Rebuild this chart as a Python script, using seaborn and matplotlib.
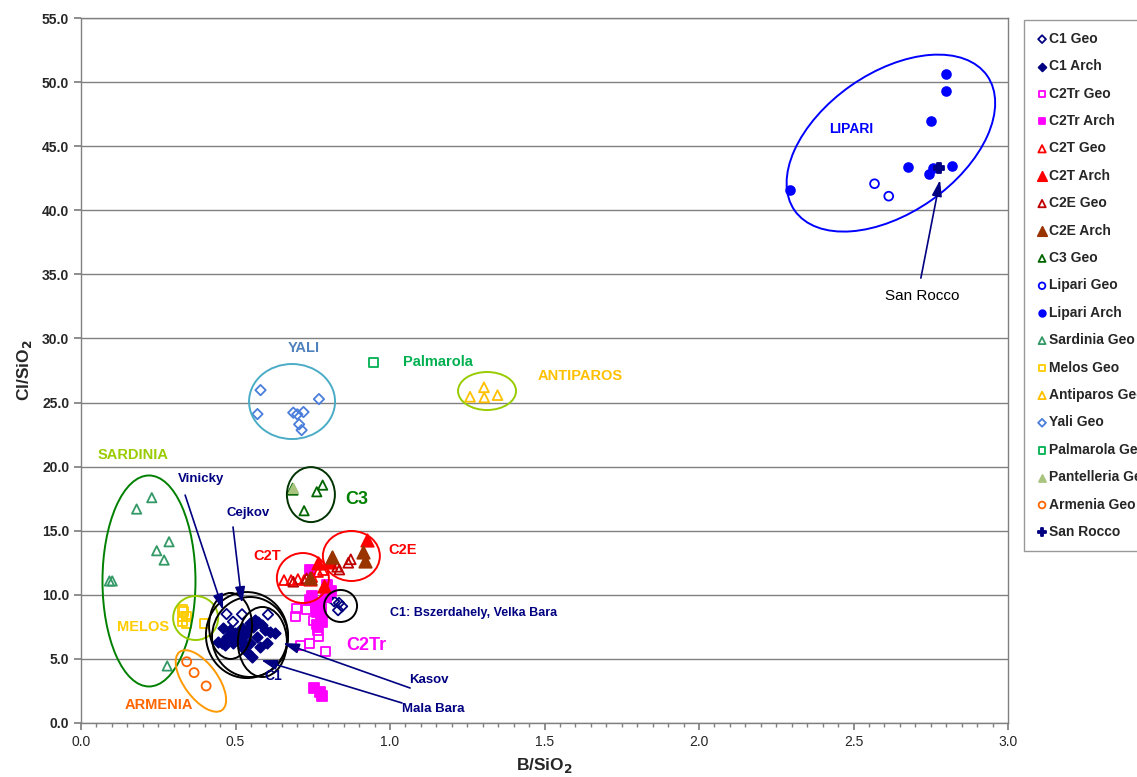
import matplotlib
matplotlib.use("Agg")
import matplotlib.pyplot as plt
from matplotlib.patches import Ellipse
from matplotlib.transforms import ScaledTranslation
from matplotlib.ticker import MultipleLocator, FormatStrFormatter
import seaborn as sns
import pandas as pd

# ---- data: B/SiO2 (x) and Cl/SiO2 (y) per source group ----
c1_geo_x = [0.471, 0.521, 0.492, 0.605, 0.803, 0.819, 0.835, 0.832, 0.845]
c1_geo_y = [8.50, 8.48, 7.90, 8.46, 9.80, 9.50, 9.36, 8.80, 9.10]

c1_arch_x = [0.443, 0.460, 0.482, 0.498, 0.505, 0.521, 0.537, 0.547, 0.557, 0.573,
             0.586, 0.595, 0.612, 0.628, 0.570, 0.547, 0.524, 0.492, 0.537, 0.553,
             0.524, 0.579, 0.602, 0.515, 0.472, 0.456, 0.466, 0.563, 0.531]
c1_arch_y = [6.32, 7.41, 7.25, 7.02, 6.47, 7.41, 7.25, 7.80, 7.49, 7.88,
             7.64, 7.25, 7.10, 7.02, 6.71, 6.24, 6.24, 6.24, 5.54, 5.15,
             5.85, 5.93, 6.24, 6.71, 6.71, 6.24, 6.08, 8.03, 6.86]

c2tr_geo_x = [0.699, 0.693, 0.731, 0.751, 0.764, 0.767, 0.741, 0.709, 0.790, 0.773, 0.761]
c2tr_geo_y = [8.97, 8.27, 8.89, 8.03, 7.25, 6.71, 6.24, 6.08, 5.54, 8.66, 7.72]

c2tr_arch_x = [0.754, 0.773, 0.780, 0.741, 0.796, 0.741, 0.761, 0.777, 0.764, 0.777,
               0.780, 0.767, 0.793, 0.748, 0.809]
c2tr_arch_y = [2.73, 2.42, 2.11, 11.93, 10.76, 9.59, 9.36, 9.05, 8.66, 8.27,
               7.88, 7.57, 9.83, 9.91, 10.30]

c2t_geo_x = [0.657, 0.680, 0.702, 0.722, 0.748, 0.767, 0.783]
c2t_geo_y = [11.15, 11.15, 11.23, 11.15, 11.39, 11.78, 11.93]

c2t_arch_x = [0.925, 0.806, 0.768, 0.787, 0.741]
c2t_arch_y = [14.27, 12.58, 12.50, 10.69, 11.21]

c2e_geo_x = [0.836, 0.865, 0.873, 0.829, 0.730, 0.687]
c2e_geo_y = [11.97, 12.50, 12.77, 12.19, 11.29, 11.02]

c2e_arch_x = [0.811, 0.912, 0.919, 0.741]
c2e_arch_y = [12.92, 13.36, 12.66, 11.29]

c3_geo_x = [0.685, 0.686, 0.763, 0.782, 0.722]
c3_geo_y = [18.31, 18.17, 18.04, 18.56, 16.56]

lipari_geo_x = [2.568, 2.614]
lipari_geo_y = [42.07, 41.10]

lipari_arch_x = [2.800, 2.800, 2.750, 2.675, 2.756, 2.745, 2.820, 2.295]
lipari_arch_y = [50.67, 49.30, 47.00, 43.35, 43.30, 42.80, 43.45, 41.60]

sardinia_x = [0.229, 0.180, 0.285, 0.245, 0.269, 0.092, 0.101, 0.279]
sardinia_y = [17.58, 16.69, 14.14, 13.44, 12.71, 11.08, 11.08, 4.45]

melos_x = [0.327, 0.333, 0.330, 0.343, 0.330, 0.343, 0.401]
melos_y = [8.89, 8.66, 8.27, 8.27, 7.88, 7.80, 7.80]

antiparos_x = [1.259, 1.304, 1.305, 1.348]
antiparos_y = [25.45, 26.19, 25.40, 25.58]

yali_x = [0.581, 0.571, 0.770, 0.687, 0.700, 0.720, 0.706, 0.714]
yali_y = [25.97, 24.10, 25.27, 24.21, 24.08, 24.26, 23.30, 22.85]

palmarola_x = [0.948]
palmarola_y = [28.14]

pantelleria_x = [0.685]
pantelleria_y = [18.31]

armenia_x = [0.342, 0.366, 0.405]
armenia_y = [4.78, 3.93, 2.89]

san_rocco_x = [2.778]
san_rocco_y = [43.26]

# group name, x, y, marker, face colour, edge colour, size
groups = [
    ("C1 Geo", c1_geo_x, c1_geo_y, "D", "none", "#000080", 28),
    ("C1 Arch", c1_arch_x, c1_arch_y, "D", "#000080", "#000080", 28),
    ("C2Tr Geo", c2tr_geo_x, c2tr_geo_y, "s", "none", "#FF00FF", 42),
    ("C2Tr Arch", c2tr_arch_x, c2tr_arch_y, "s", "#FF00FF", "#FF00FF", 42),
    ("C2T Geo", c2t_geo_x, c2t_geo_y, "^", "none", "#FF0000", 50),
    ("C2T Arch", c2t_arch_x, c2t_arch_y, "^", "#FF0000", "#FF0000", 80),
    ("C2E Geo", c2e_geo_x, c2e_geo_y, "^", "none", "#C00000", 50),
    ("C2E Arch", c2e_arch_x, c2e_arch_y, "^", "#993300", "#993300", 80),
    ("C3 Geo", c3_geo_x, c3_geo_y, "^", "none", "#006600", 45),
    ("Lipari Geo", lipari_geo_x, lipari_geo_y, "o", "none", "#0000FF", 40),
    ("Lipari Arch", lipari_arch_x, lipari_arch_y, "o", "#0000FF", "#0000FF", 40),
    ("Sardinia Geo", sardinia_x, sardinia_y, "^", "none", "#339966", 45),
    ("Melos Geo", melos_x, melos_y, "s", "none", "#FFCC00", 42),
    ("Antiparos Geo", antiparos_x, antiparos_y, "^", "none", "#FFC000", 50),
    ("Yali Geo", yali_x, yali_y, "D", "none", "#4A7EDB", 28),
    ("Palmarola Geo", palmarola_x, palmarola_y, "s", "none", "#00B050", 42),
    ("Pantelleria Geo", pantelleria_x, pantelleria_y, "^", "#A9C47F", "#A9C47F", 45),
    ("Armenia Geo", armenia_x, armenia_y, "o", "none", "#FF6600", 42),
    ("San Rocco", san_rocco_x, san_rocco_y, "P", "#000080", "#000080", 60),
]

# grouping ellipses: centre (data), width/height (px), angle (deg), colour
ell_cx = [2.621, 0.683, 1.314, 0.744, 0.220, 0.371, 0.388, 0.718, 0.875, 0.840, 0.537, 0.547, 0.484, 0.587]
ell_cy = [45.24, 25.08, 25.90, 17.82, 11.08, 8.19, 3.28, 11.31, 13.03, 9.13, 6.86, 6.71, 7.57, 6.32]
ell_w = [235, 86, 58, 48, 93, 45, 72, 52, 57, 33, 82, 76, 43, 49]
ell_h = [140, 75, 38, 55, 211, 44, 34, 50, 50, 32, 86, 80, 66, 70]
ell_ang = [35, 0, 0, 0, 0, 0, -54, 0, 0, 0, 0, 0, 0, 0]
ell_col = ["#0000FF", "#4BACC6", "#99CC00", "#003300", "#008000", "#99CC00", "#FF9900",
           "#FF0000", "#FF0000", "#000000", "#000000", "#000000", "#000000", "#000000"]

# labels: text, x, y, colour, size, weight
lab_text = ["LIPARI", "San Rocco", "YALI", "Palmarola", "ANTIPAROS", "SARDINIA", "Vinicky",
            "Cejkov", "C3", "C2T", "C2E", "C1: Bszerdahely, Velka Bara", "MELOS", "C2Tr",
            "C1", "Kasov", "Mala Bara", "ARMENIA"]
lab_x = [2.492, 2.722, 0.722, 1.155, 1.615, 0.168, 0.388, 0.540, 0.893, 0.602, 1.042, 1.269,
         0.201, 0.922, 0.621, 1.126, 1.139, 0.252]
lab_y = [46.33, 33.31, 29.25, 28.16, 27.07, 20.90, 19.03, 16.38, 17.47, 13.03, 13.49, 8.58,
         7.49, 6.01, 3.67, 3.35, 1.09, 1.40]
lab_col = ["#0000FF", "#000000", "#4F81BD", "#00B050", "#FFC000", "#99CC00", "#000080",
           "#000080", "#008000", "#FF0000", "#FF0000", "#000080", "#FFCC00", "#FF00FF",
           "#000080", "#000080", "#000080", "#FF6600"]
lab_size = [10, 11, 10.5, 10.5, 10.5, 10.5, 9.5, 9.5, 13, 10.5, 10.5, 9, 10.5, 13, 10, 9.5, 9.5, 10.5]
lab_weight = ["bold", "normal"] + ["bold"] * 16

# arrows: tail -> head (data)
arr_x0 = [0.337, 0.492, 1.065, 1.039, 2.718]
arr_y0 = [17.78, 15.29, 2.73, 1.56, 34.71]
arr_x1 = [0.460, 0.521, 0.654, 0.583, 2.780]
arr_y1 = [8.81, 9.36, 6.24, 4.91, 42.36]

sns.set_theme(style="white")
plt.rcParams["font.family"] = ["Liberation Sans", "DejaVu Sans"]

fig = plt.figure(figsize=(11.37, 7.77), dpi=100)
ax = fig.add_axes([81 / 1137, 1 - 723 / 777, 927 / 1137, 705 / 777])

for name, xs, ys, mk, fc, ec, s in groups:
    df = pd.DataFrame({"x": xs, "y": ys})
    sns.scatterplot(data=df, x="x", y="y", marker=mk, s=s, facecolors=fc,
                    edgecolors=ec, linewidths=1.3, ax=ax, label=name, zorder=3)

for cx, cy, w, h, a, c in zip(ell_cx, ell_cy, ell_w, ell_h, ell_ang, ell_col):
    tr = fig.dpi_scale_trans + ScaledTranslation(cx, cy, ax.transData)
    ax.add_patch(Ellipse((0, 0), w / 100, h / 100, angle=a, transform=tr,
                         fill=False, edgecolor=c, linewidth=1.4, zorder=4))

for t, x, y, c, s, wgt in zip(lab_text, lab_x, lab_y, lab_col, lab_size, lab_weight):
    ax.text(x, y, t, color=c, fontsize=s, fontweight=wgt, ha="center", va="center", zorder=5)

for x0, y0, x1, y1 in zip(arr_x0, arr_y0, arr_x1, arr_y1):
    ax.annotate("", xy=(x1, y1), xytext=(x0, y0),
                arrowprops=dict(arrowstyle="-|>,head_length=0.8,head_width=0.25",
                                color="#000080", lw=1.2, shrinkA=0, shrinkB=0), zorder=5)

ax.set_xlim(0, 3.0)
ax.set_ylim(0, 55)
ax.xaxis.set_major_locator(MultipleLocator(0.5))
ax.xaxis.set_minor_locator(MultipleLocator(0.05))
ax.yaxis.set_major_locator(MultipleLocator(5))
ax.xaxis.set_major_formatter(FormatStrFormatter("%.1f"))
ax.yaxis.set_major_formatter(FormatStrFormatter("%.1f"))
ax.grid(axis="y", color="#808080", linewidth=1.0)
ax.grid(axis="x", visible=False)
ax.set_axisbelow(True)
for sp in ax.spines.values():
    sp.set_color("#808080")
    sp.set_linewidth(1.0)
ax.tick_params(axis="both", which="major", direction="out", length=5, color="#808080",
               bottom=True, left=True, labelsize=10)
ax.tick_params(axis="x", which="minor", direction="out", length=3, color="#808080", bottom=True)
for lbl in ax.get_yticklabels():
    lbl.set_fontweight("bold")

ax.set_xlabel("B/SiO$_\\mathbf{2}$", fontsize=12.5, fontweight="bold", labelpad=5)
ax.set_ylabel("Cl/SiO$_\\mathbf{2}$", fontsize=12.5, fontweight="bold", labelpad=6)

leg = ax.legend(loc="upper left", bbox_to_anchor=(1024 / 1137, 1 - 20 / 777),
                bbox_transform=fig.transFigure, frameon=True, fancybox=False,
                edgecolor="#808080", fontsize=10, labelspacing=0.965, handletextpad=0.05,
                handlelength=0.9, borderpad=0.85, markerscale=0.75, borderaxespad=0)
leg.get_frame().set_linewidth(1.0)
for txt in leg.get_texts():
    txt.set_fontweight("bold")

fig.savefig("out.png", dpi=100)
